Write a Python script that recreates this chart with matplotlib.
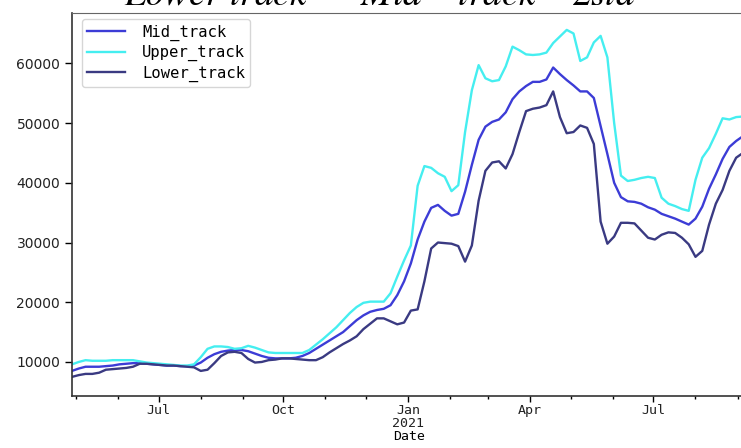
import matplotlib.pyplot as plt
import matplotlib.dates as mdates
import numpy as np
import pandas as pd

plt.rcParams['mathtext.fontset'] = 'stix'

# 5-day samples (values in thousands)
dates = pd.date_range('2020-04-28', periods=100, freq='5D')
upper_k = [9.6, 10.0, 10.3, 10.2, 10.2, 10.2, 10.3, 10.3, 10.3, 10.3,
           10.1, 9.9, 9.8, 9.7, 9.6, 9.5, 9.4, 9.4, 9.6, 10.8,
           12.2, 12.6, 12.6, 12.5, 12.2, 12.3, 12.7, 12.4, 12.0, 11.6,
           11.5, 11.5, 11.5, 11.5, 11.5, 12.0, 12.9, 13.8, 14.8, 15.8,
           17.0, 18.2, 19.2, 19.9, 20.1, 20.1, 20.1, 21.5, 24.3, 27.0,
           29.5, 39.5, 42.8, 42.5, 41.6, 41.0, 38.6, 39.6, 48.5, 55.5,
           59.7, 57.5, 57.0, 57.2, 59.5, 62.8, 62.2, 61.5, 61.4, 61.5,
           61.8, 63.4, 64.5, 65.6, 65.0, 60.4, 61.0, 63.5, 64.6, 61.0,
           50.0, 41.2, 40.3, 40.5, 40.8, 41.0, 40.8, 37.5, 36.5, 36.1,
           35.6, 35.3, 40.5, 44.2, 45.8, 48.2, 50.8, 50.6, 51.0, 51.1]
mid_k = [8.5, 8.9, 9.2, 9.2, 9.2, 9.3, 9.4, 9.6, 9.7, 9.8,
         9.8, 9.7, 9.6, 9.5, 9.4, 9.4, 9.3, 9.3, 9.4, 9.9,
         10.7, 11.3, 11.7, 11.9, 12.0, 12.0, 11.8, 11.4, 11.0, 10.7,
         10.6, 10.6, 10.6, 10.7, 11.0, 11.5, 12.2, 12.9, 13.6, 14.3,
         15.0, 16.0, 17.0, 17.8, 18.4, 18.7, 18.9, 19.5, 21.2, 23.5,
         26.5, 30.5, 33.5, 35.8, 36.3, 35.3, 34.5, 34.8, 38.5, 43.0,
         47.2, 49.4, 50.2, 50.6, 51.8, 54.0, 55.3, 56.2, 56.9, 56.9,
         57.3, 59.3, 58.2, 57.2, 56.3, 55.3, 55.3, 54.2, 49.5, 44.8,
         40.0, 37.6, 36.9, 36.8, 36.5, 35.9, 35.5, 34.8, 34.4, 34.0,
         33.5, 33.0, 34.0, 36.0, 39.0, 41.4, 44.0, 46.0, 47.0, 47.8]
lower_k = [7.5, 7.8, 8.0, 8.0, 8.2, 8.7, 8.8, 8.9, 9.0, 9.2,
           9.7, 9.7, 9.6, 9.5, 9.4, 9.4, 9.3, 9.2, 9.1, 8.5,
           8.7, 9.8, 11.0, 11.6, 11.7, 11.5, 10.5, 9.9, 10.0, 10.3,
           10.4, 10.6, 10.6, 10.5, 10.4, 10.3, 10.3, 10.8, 11.6, 12.3,
           13.0, 13.6, 14.3, 15.5, 16.4, 17.3, 17.3, 16.8, 16.3, 16.6,
           18.6, 18.8, 23.5, 29.0, 30.0, 29.9, 29.8, 29.4, 26.8, 29.5,
           37.0, 42.0, 43.4, 43.6, 42.4, 44.8, 48.5, 52.0, 52.4, 52.6,
           53.0, 55.3, 51.0, 48.3, 48.5, 49.6, 49.2, 46.5, 33.5, 29.8,
           31.0, 33.3, 33.3, 33.2, 32.0, 30.8, 30.5, 31.3, 31.7, 31.6,
           30.8, 29.7, 27.6, 28.6, 33.0, 36.5, 38.8, 42.0, 44.2, 45.0]

tick_dates = pd.to_datetime(['2020-07-01', '2020-10-01', '2021-01-01',
                             '2021-04-01', '2021-07-01'])
tick_labels = ['Jul', 'Oct', 'Jan\n2021', 'Apr', 'Jul']
y_ticks = [10000, 20000, 30000, 40000, 50000, 60000]

upper = np.array(upper_k) * 1000
mid = np.array(mid_k) * 1000
lower = np.array(lower_k) * 1000

fig = plt.figure(figsize=(7.41, 4.48), dpi=100)
ax = fig.add_axes([72/741, 52/448, 675/741, 383/448])

ax.plot(dates, mid, color='#3c3cd6', lw=1.7, label='Mid_track')
ax.plot(dates, upper, color='#45eef0', lw=1.7, label='Upper_track')
ax.plot(dates, lower, color='#3a3a82', lw=1.7, label='Lower_track')

ax.set_xlim(pd.Timestamp('2020-04-28'), pd.Timestamp('2021-09-08'))
ax.set_ylim(4300, 68430)
ax.set_yticks(y_ticks)
ax.set_yticklabels([str(v) for v in y_ticks], fontsize=10, color='#222222')
ax.set_xticks(tick_dates)
ax.set_xticklabels(tick_labels, family='DejaVu Sans Mono', fontsize=9.5,
                   color='#222222', linespacing=1.0)
ax.xaxis.set_minor_locator(mdates.MonthLocator())
ax.tick_params(axis='x', which='major', length=4, width=1, pad=1.5)
ax.tick_params(axis='x', which='minor', length=2.5, width=1)
ax.tick_params(axis='y', length=5, width=1)
ax.set_xlabel('Date', family='DejaVu Sans Mono', fontsize=9.5, labelpad=0)

for s in ['left', 'bottom']:
    ax.spines[s].set_color('#333333')
    ax.spines[s].set_linewidth(1.2)
ax.spines['top'].set_color('#666666')

ax.legend(loc='upper left', bbox_to_anchor=(0.0148, 0.984), borderaxespad=0,
          prop={'family': 'DejaVu Sans Mono', 'size': 11.2},
          handlelength=2.4, handletextpad=1.1, labelspacing=0.28, borderpad=0.35)

fig.text(0.514, 0.989, r'$Lower\ track\ =\ Mid-track-2std$', fontsize=27,
         ha='center', va='baseline')

fig.savefig('out.png', dpi=100)
